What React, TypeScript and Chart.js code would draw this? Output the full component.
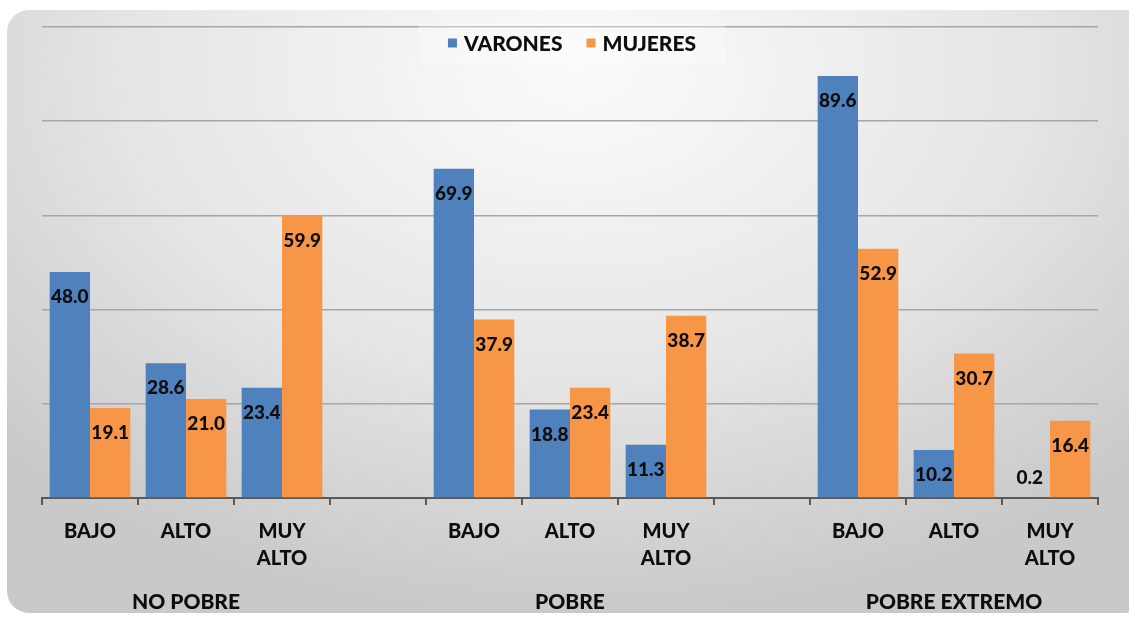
import React, { useEffect, useRef } from "react";
import { Chart, registerables } from "chart.js";

Chart.register(...registerables);

const categories: (string | string[])[] = [
  "BAJO", "ALTO", ["MUY", "ALTO"], "",
  "BAJO", "ALTO", ["MUY", "ALTO"], "",
  "BAJO", "ALTO", ["MUY", "ALTO"],
];
const groups = ["NO POBRE", "POBRE", "POBRE EXTREMO"];
const groupRanges = [[0, 2], [4, 6], [8, 10]];
const varones: (number | null)[] = [48.0, 28.6, 23.4, null, 69.9, 18.8, 11.3, null, 89.6, 10.2, 0.2];
const mujeres: (number | null)[] = [19.1, 21.0, 59.9, null, 37.9, 23.4, 38.7, null, 52.9, 30.7, 16.4];
const seriesNames = ["VARONES", "MUJERES"];
const colors = ["#4f81bd", "#f79646"];

const FONT = "Lato, 'Open Sans', sans-serif";
const TEXT = "#0d0d0d";

const labelsPlugin = {
  id: "customLabels",
  afterDatasetsDraw(chart: any) {
    const ctx = chart.ctx;
    const base = chart.scales.y.getPixelForValue(0);
    ctx.save();
    ctx.font = `900 19px ${FONT}`;
    ctx.fillStyle = TEXT;
    ctx.textAlign = "center";
    ctx.textBaseline = "middle";
    chart.data.datasets.forEach((ds: any, di: number) => {
      const meta = chart.getDatasetMeta(di);
      meta.data.forEach((bar: any, i: number) => {
        const v = ds.data[i];
        if (v === null || v === undefined) return;
        let y = bar.y + 25;
        if (y > base - 20) y = base - 20;
        ctx.fillText(v.toFixed(1), bar.x, y);
      });
    });
    ctx.restore();
  },
  afterDraw(chart: any) {
    const ctx = chart.ctx;
    const xs = chart.scales.x;
    ctx.save();
    ctx.font = `900 21px ${FONT}`;
    ctx.fillStyle = TEXT;
    ctx.textAlign = "center";
    ctx.textBaseline = "middle";
    groups.forEach((g, gi) => {
      const [a, b] = groupRanges[gi];
      const cx = (xs.getPixelForValue(a) + xs.getPixelForValue(b)) / 2;
      ctx.fillText(g, cx, 602);
    });
    // legend
    ctx.font = `900 21px ${FONT}`;
    ctx.textAlign = "left";
    const box = 9;
    const gapBox = 7;
    const gapItem = 24;
    const widths = seriesNames.map((n) => box + gapBox + ctx.measureText(n).width);
    const total = widths.reduce((a, b) => a + b, 0) + gapItem * (seriesNames.length - 1);
    let x = 572 - total / 2;
    const ly = 43;
    ctx.fillStyle = "rgba(255,255,255,0.3)";
    ctx.fillRect(x - 30, ly - 20, total + 60, 42);
    seriesNames.forEach((n, i) => {
      ctx.fillStyle = colors[i];
      ctx.fillRect(x, ly - box / 2, box, box);
      ctx.fillStyle = TEXT;
      ctx.fillText(n, x + box + gapBox, ly + 1);
      x += widths[i] + gapItem;
    });
    ctx.restore();
  },
};

export default function App() {
  const ref = useRef<HTMLCanvasElement | null>(null);
  useEffect(() => {
    document.body.style.margin = "0";
    if (!ref.current) return;
    const chart = new Chart(ref.current, {
      type: "bar",
      data: {
        labels: categories,
        datasets: [
          { label: seriesNames[0], data: varones, backgroundColor: colors[0], categoryPercentage: 0.84, barPercentage: 1 },
          { label: seriesNames[1], data: mujeres, backgroundColor: colors[1], categoryPercentage: 0.84, barPercentage: 1 },
        ],
      },
      options: {
        animation: false,
        responsive: false,
        maintainAspectRatio: false,
        layout: { padding: { left: 42, right: 31, top: 27, bottom: 0 } },
        plugins: {
          legend: { display: false },
          tooltip: { enabled: false },
        },
        scales: {
          x: {
            offset: true,
            grid: {
              offset: true,
              drawOnChartArea: false,
              drawTicks: true,
              tickLength: 7,
              color: "#595959",
              lineWidth: 2,
            },
            border: { display: true, color: "#595959", width: 2 },
            ticks: {
              color: TEXT,
              padding: 13,
              maxRotation: 0,
              autoSkip: false,
              font: { family: FONT, size: 20, weight: "900", lineHeight: 1.35 },
            },
            afterFit: (s: any) => { s.height = 119; },
          },
          y: {
            min: 0,
            max: 100,
            ticks: { display: false, stepSize: 20 },
            grid: { color: "#a6a6a6", lineWidth: 1.5, drawTicks: false },
            border: { display: false },
            afterFit: (s: any) => { s.width = 0; },
          },
        },
      },
      plugins: [labelsPlugin],
    } as any);
    return () => chart.destroy();
  }, []);

  return (
    <div style={{ position: "fixed", left: 0, top: 0, width: 1129, height: 617, background: "#fff" }}>
      <div
        style={{
          position: "absolute",
          left: 7,
          top: 10,
          width: 1140,
          height: 603,
          borderRadius: 22,
          background: "radial-gradient(ellipse 70% 90% at 50% 10%, #fbfbfb 0%, #e6e6e6 55%, #c9c9c9 100%)",
        }}
      />
      <canvas ref={ref} width={1129} height={617} style={{ position: "absolute", left: 0, top: 0 }} />
    </div>
  );
}
